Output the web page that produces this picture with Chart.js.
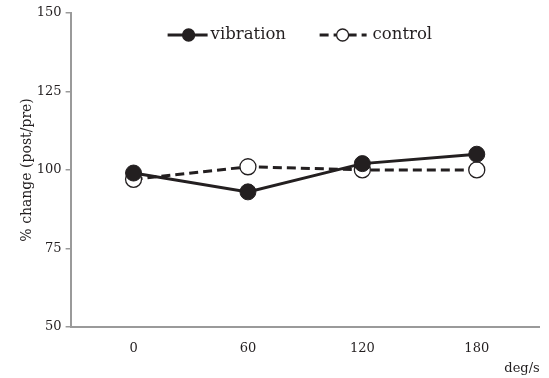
<!DOCTYPE html>
<html lang="en">
<head>
    <meta charset="UTF-8">
    <title>% change</title>
    <script src="https://cdn.jsdelivr.net/npm/chart.js"></script>
    <style>
        html, body { margin: 0; padding: 0; background: #fff; }
        .chart { width: 549px; height: 378px; }
    </style>
</head>
<body>
    <div class="chart">
        <canvas id="myChart"></canvas>
    </div>

<script>
    // dados
    var velocidades = [0, 60, 120, 180]
    var vibracao = [99, 93, 102, 105]
    var controle = [97, 101, 100, 100]
    var ticksY = [50, 75, 100, 125, 150]

    var corLinha = '#231f20'
    var fonteSerif = "'DejaVu Serif', serif"

    function pontos(valores) {
        return velocidades.map(function (v, i) { return { x: v, y: valores[i] } })
    }

    // legenda desenhada a mao: linha + marcador + texto
    // [inicio da linha, comprimento, centro do marcador, inicio do texto]
    var legendaPos = [[97, 40, 21, 43], [249, 47, 23, 53]]

    const legendaLinha = {
        id: 'legendaLinha',
        afterDraw(chart) {
            const ctx = chart.ctx
            const area = chart.chartArea
            const y = area.top + 22
            chart.data.datasets.forEach(function (ds, i) {
                const p = legendaPos[i]
                const x = area.left + p[0]
                ctx.save()
                ctx.strokeStyle = ds.borderColor
                ctx.lineWidth = ds.borderWidth
                ctx.setLineDash(ds.borderDash || [])
                ctx.beginPath()
                ctx.moveTo(x, y)
                ctx.lineTo(x + p[1], y)
                ctx.stroke()
                ctx.setLineDash([])
                ctx.beginPath()
                ctx.arc(x + p[2], y, 6, 0, Math.PI * 2)
                ctx.fillStyle = ds.pointBackgroundColor
                ctx.fill()
                ctx.lineWidth = 1.3
                ctx.stroke()
                ctx.fillStyle = corLinha
                ctx.font = '16.5px ' + fonteSerif
                ctx.textBaseline = 'middle'
                ctx.fillText(ds.label, x + p[3], y)
                ctx.restore()
            })
        }
    }

    let dados = {
        datasets: [{
            label: 'vibration',
            data: pontos(vibracao),
            borderColor: corLinha,
            borderWidth: 3,
            pointRadius: 8,
            pointBackgroundColor: corLinha,
            pointBorderColor: corLinha,
            pointBorderWidth: 1,
            tension: 0
        }, {
            label: 'control',
            data: pontos(controle),
            borderColor: corLinha,
            borderWidth: 3,
            borderDash: [9, 5],
            pointRadius: 8,
            pointBackgroundColor: '#ffffff',
            pointBorderColor: corLinha,
            pointBorderWidth: 1.3,
            tension: 0
        }]
    }

    const config = {
        type: 'line',
        data: dados,
        options: {
            responsive: true,
            maintainAspectRatio: false,
            animation: false,
            layout: { padding: { top: 13, right: 8, left: 19, bottom: 2 } },
            plugins: {
                legend: { display: false },
                tooltip: { enabled: false }
            },
            scales: {
                x: {
                    type: 'linear',
                    min: -33,
                    max: 213,
                    afterBuildTicks: function (axis) {
                        axis.ticks = velocidades.map(function (v) { return { value: v } })
                    },
                    grid: { display: false },
                    border: { display: true, color: '#9a9a9a', width: 2 },
                    ticks: {
                        color: corLinha,
                        font: { family: fonteSerif, size: 13 },
                        padding: 6,
                        maxRotation: 0
                    },
                    title: {
                        display: true,
                        text: 'deg/s',
                        align: 'end',
                        color: corLinha,
                        font: { family: fonteSerif, size: 13 },
                        padding: { top: -2, bottom: 0 }
                    }
                },
                y: {
                    min: 50,
                    max: 150,
                    afterBuildTicks: function (axis) {
                        axis.ticks = ticksY.map(function (v) { return { value: v } })
                    },
                    grid: {
                        drawOnChartArea: false,
                        drawTicks: true,
                        tickLength: 5,
                        color: '#9a9a9a',
                        lineWidth: 1.5
                    },
                    border: { display: true, color: '#9a9a9a', width: 2 },
                    ticks: {
                        color: corLinha,
                        font: { family: fonteSerif, size: 13 },
                        padding: 4
                    },
                    title: {
                        display: true,
                        text: '% change (post/pre)',
                        color: corLinha,
                        font: { family: fonteSerif, size: 14 },
                        padding: { top: 0, bottom: -3 }
                    }
                }
            }
        },
        plugins: [legendaLinha]
    }

    let myChart = new Chart(document.getElementById('myChart'), config)
</script>
</body>
</html>
